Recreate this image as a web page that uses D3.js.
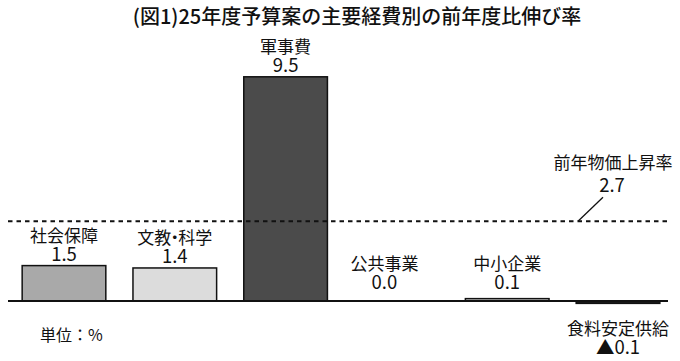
<!DOCTYPE html>
<html>
<head>
<meta charset="utf-8">
<script src="https://cdn.jsdelivr.net/npm/d3@7"></script>
<style>
  body { margin: 0; background: #fff; }
  text { font-family: "Noto Sans CJK JP", "Noto Sans", sans-serif; fill: #111; }
</style>
</head>
<body>
<svg width="680" height="361"></svg>
<script>
var title = '(図1)25年度予算案の主要経費別の前年度比伸び率';
var categories = ['社会保障', '文教・科学', '軍事費', '公共事業', '中小企業', '食料安定供給'];
var values = [1.5, 1.4, 9.5, 0.0, 0.1, -0.1];
var valueLabels = ['1.5', '1.4', '9.5', '0.0', '0.1', '▲0.1'];
var priceLabel = '前年物価上昇率';
var priceRate = 2.7;
var unitLabel = '単位：%';

var fills = ['#a9a9a9', '#dcdcdc', '#4b4b4b', '#ffffff', '#d4d4d4', '#1c1c1c'];
// the source graphic nudges a few labels off the bar centre
var labelNudge = { '公共事業': -12 };

var data = categories.map((c, i) => ({ name: c, value: values[i], label: valueLabels[i], fill: fills[i] }));

var svg = d3.select('svg');
var baseY = 301;
var pxPerUnit = 23.6;

var x = d3.scaleBand()
    .domain(categories)
    .range([0, 682])
    .paddingInner(0.245)
    .paddingOuter(0.2);

var y = d3.scaleLinear()
    .domain([0, 1])
    .range([baseY, baseY - pxPerUnit]);

svg.append('text')
    .attr('x', 357)
    .attr('y', 24)
    .attr('text-anchor', 'middle')
    .attr('font-size', 20)
    .attr('font-weight', 500)
    .text(title);

// bars (zero-height ones are skipped)
svg.selectAll('rect.bar')
    .data(data.filter(d => d.value !== 0))
    .enter().append('rect')
    .attr('class', 'bar')
    .attr('x', d => x(d.name))
    .attr('width', x.bandwidth())
    .attr('y', d => Math.min(y(d.value), y(0)))
    .attr('height', d => Math.max(Math.abs(y(d.value) - y(0)), 2))
    .attr('fill', d => d.fill)
    .attr('stroke', '#111')
    .attr('stroke-width', 1.5);

// baseline
svg.append('line')
    .attr('x1', 8).attr('x2', 668)
    .attr('y1', y(0)).attr('y2', y(0))
    .attr('stroke', '#111')
    .attr('stroke-width', 2);

// labels
var labelG = svg.selectAll('g.lab')
    .data(data)
    .enter().append('g')
    .attr('class', 'lab')
    .attr('transform', d => {
        var cx = x(d.name) + x.bandwidth() / 2 + (labelNudge[d.name] || 0);
        var cy = d.value >= 0 ? Math.min(y(d.value), y(0.3)) - 11 : y(0) + 47;
        return 'translate(' + cx + ',' + cy + ')';
    });

labelG.append('text')
    .attr('text-anchor', 'middle')
    .attr('dy', '0.35em')
    .attr('font-size', 18.5)
    .text(d => d.label);

// names; the middle dot is set narrow, as in the source
labelG.append('text')
    .attr('text-anchor', 'middle')
    .attr('y', -19)
    .attr('dy', '0.35em')
    .attr('font-size', 17)
    .each(function(d) {
        var parts = d.name.split('・');
        var t = d3.select(this);
        parts.forEach((p, i) => {
            if (i > 0) t.append('tspan').attr('dx', -5).text('・');
            t.append('tspan').attr('dx', i > 0 ? -5 : 0).text(p);
        });
    });

// price line, drawn just above the bar labels as in the source graphic
var priceY = y(priceRate) - 16;
svg.append('line')
    .attr('x1', 8).attr('x2', 670)
    .attr('y1', priceY).attr('y2', priceY)
    .attr('stroke', '#111')
    .attr('stroke-width', 2)
    .attr('stroke-dasharray', '4.5,4');

svg.append('line')
    .attr('x1', 578).attr('y1', priceY)
    .attr('x2', 603).attr('y2', priceY - 24)
    .attr('stroke', '#111')
    .attr('stroke-width', 1.3);

svg.append('text')
    .attr('x', 612).attr('y', priceY - 36)
    .attr('dy', '0.35em')
    .attr('text-anchor', 'middle')
    .attr('font-size', 18.5)
    .text(d3.format('.1f')(priceRate));

svg.append('text')
    .attr('x', 613).attr('y', priceY - 58)
    .attr('dy', '0.35em')
    .attr('text-anchor', 'middle')
    .attr('font-size', 17)
    .text(priceLabel);

svg.append('text')
    .attr('x', 40).attr('y', 335)
    .attr('dy', '0.35em')
    .attr('font-size', 16)
    .text(unitLabel);
</script>
</body>
</html>
